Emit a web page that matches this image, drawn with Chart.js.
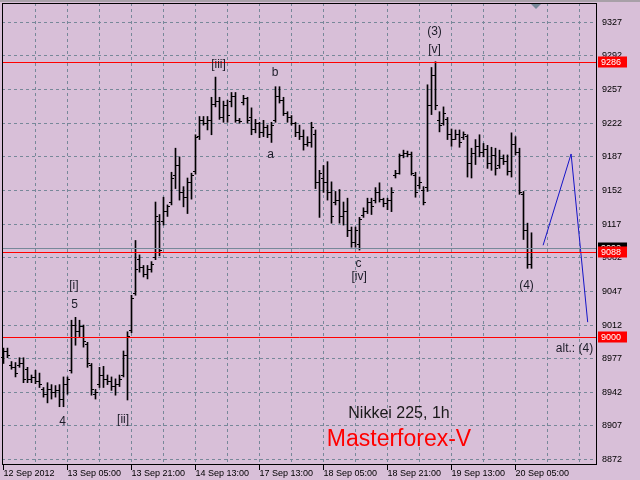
<!DOCTYPE html>
<html>
<head>
<meta charset="utf-8">
<script src="https://cdn.jsdelivr.net/npm/chart.js@4.4.1/dist/chart.umd.min.js"></script>
<style>
  body { margin: 0; background: #d8bfd8; }
  canvas { display: block; }
</style>
</head>
<body>
<canvas id="nikkeiChart" width="640" height="480"></canvas>
<script>
// Nikkei 225, 1h bars (index = bar number from 12 Sep 2012)
const opens = [
  8978, 8984, 8970, 8968, 8970, 8972, 8966, 8955, 8957, 8953,
  8945, 8940, 8945, 8942, 8944, 8935, 8950, 8965, 9012, 9005,
  9010, 8992, 8970, 8940, 8950, 8960, 8955, 8953, 8948, 8950,
  8960, 8980, 9006, 9045, 9080, 9072, 9065, 9070, 9082, 9120,
  9120, 9130, 9140, 9168, 9178, 9150, 9145, 9160, 9172, 9208,
  9225, 9222, 9225, 9242, 9245, 9228, 9240, 9245, 9250, 9225,
  9244, 9248, 9228, 9215, 9222, 9212, 9218, 9210, 9225, 9250,
  9246, 9232, 9228, 9222, 9212, 9208, 9200, 9202, 9210, 9160,
  9165, 9160, 9150, 9140, 9142, 9125, 9130, 9110, 9098, 9096,
  9126, 9130, 9140, 9142, 9150, 9143, 9138, 9142, 9168, 9170,
  9188, 9190, 9189, 9168, 9157, 9152, 9155, 9240, 9272, 9225,
  9222, 9226, 9210, 9205, 9210, 9207, 9208, 9180, 9190, 9198,
  9192, 9195, 9180, 9188, 9178, 9185, 9182, 9172, 9200, 9192,
  9148, 9110, 9075
];
const highs = [
  8988, 8988, 8974, 8973, 8978, 8978, 8968, 8960, 8965, 8962,
  8947, 8952, 8950, 8949, 8950, 8958, 8958, 9017, 9020, 9017,
  9012, 8994, 8972, 8945, 8968, 8969, 8960, 8958, 8956, 8960,
  8985, 9005, 9043, 9100, 9085, 9074, 9074, 9078, 9140, 9127,
  9145, 9137, 9171, 9196, 9187, 9156, 9165, 9170, 9210, 9229,
  9229, 9229, 9249, 9270, 9249, 9245, 9246, 9254, 9254, 9227,
  9251, 9249, 9238, 9226, 9223, 9225, 9220, 9223, 9260, 9260,
  9249, 9234, 9230, 9223, 9220, 9215, 9208, 9223, 9215, 9173,
  9178, 9182, 9161, 9151, 9153, 9140, 9144, 9114, 9114, 9124,
  9134, 9144, 9144, 9155, 9160, 9144, 9144, 9155, 9173, 9190,
  9194, 9193, 9192, 9171, 9166, 9156, 9262, 9280, 9286, 9234,
  9239, 9228, 9216, 9215, 9215, 9213, 9210, 9196, 9205, 9210,
  9201, 9199, 9197, 9196, 9194, 9189, 9189, 9212, 9208, 9196,
  9151, 9118, 9108
];
const lows = [
  8972, 8978, 8966, 8958, 8968, 8952, 8952, 8952, 8951, 8947,
  8937, 8931, 8935, 8937, 8927, 8927, 8940, 8962, 8991, 9000,
  8989, 8968, 8939, 8935, 8947, 8947, 8950, 8944, 8939, 8948,
  8958, 8934, 9004, 9043, 9067, 9062, 9060, 9067, 9080, 9084,
  9116, 9125, 9137, 9154, 9142, 9135, 9128, 9143, 9169, 9205,
  9220, 9215, 9210, 9239, 9226, 9223, 9223, 9239, 9223, 9222,
  9241, 9222, 9210, 9212, 9207, 9208, 9207, 9202, 9223, 9243,
  9230, 9223, 9220, 9208, 9205, 9194, 9198, 9197, 9154, 9124,
  9150, 9142, 9118, 9137, 9118, 9116, 9104, 9093, 9093, 9090,
  9124, 9128, 9127, 9139, 9140, 9135, 9132, 9130, 9165, 9169,
  9186, 9187, 9168, 9145, 9154, 9137, 9151, 9231, 9236, 9213,
  9220, 9205, 9198, 9205, 9197, 9205, 9166, 9165, 9179, 9187,
  9187, 9175, 9173, 9168, 9175, 9179, 9168, 9166, 9189, 9148,
  9101, 9071, 9071
];
const closes = [
  8984, 8980, 8968, 8962, 8972, 8955, 8955, 8957, 8953, 8950,
  8940, 8945, 8942, 8944, 8935, 8950, 8955, 9012, 9005, 9010,
  8995, 8972, 8945, 8942, 8960, 8955, 8953, 8948, 8950, 8955,
  8980, 9000, 9040, 9070, 9072, 9065, 9070, 9075, 9125, 9090,
  9130, 9135, 9165, 9178, 9150, 9145, 9160, 9168, 9207, 9225,
  9222, 9225, 9242, 9245, 9228, 9240, 9230, 9250, 9225, 9224,
  9248, 9225, 9215, 9222, 9212, 9218, 9210, 9220, 9250, 9246,
  9232, 9228, 9222, 9212, 9208, 9200, 9202, 9218, 9160, 9170,
  9160, 9150, 9125, 9142, 9125, 9130, 9110, 9098, 9110, 9122,
  9130, 9140, 9135, 9150, 9143, 9138, 9142, 9150, 9170, 9188,
  9190, 9189, 9170, 9150, 9160, 9140, 9240, 9272, 9240, 9220,
  9232, 9210, 9205, 9210, 9202, 9210, 9180, 9190, 9198, 9192,
  9195, 9180, 9188, 9175, 9185, 9182, 9172, 9200, 9192, 9150,
  9110, 9075, 9092
];

// time axis labels, every 16 bars
const xLabelIdx = [0, 16, 32, 48, 64, 80, 96, 112, 128];
const xLabels = ['12 Sep 2012', '13 Sep 05:00', '13 Sep 21:00', '14 Sep 13:00',
  '17 Sep 13:00', '18 Sep 05:00', '18 Sep 21:00', '19 Sep 13:00', '20 Sep 05:00'];
const yTicks = [8872, 8907, 8942, 8977, 9012, 9047, 9082, 9117, 9152, 9187, 9222, 9257, 9292, 9327];

// horizontal levels
const redLevels = [9286, 9088, 9000];
const bidLevel = 9092;

// projected wave path (bar index, price)
const projX = [134.9, 141.9, 146.05];
const projY = [9095, 9190, 9015];

// wave marks (text, bar index, price)
const waveText = ['(3)', '[v]', '[iii]', 'b', 'a', 'c', '[iv]', '[i]', '5', '4', '[ii]', '(4)', 'alt.: (4)'];
const waveIdx = [107.75, 107.75, 53.75, 67.9, 66.75, 88.75, 88.9, 17.6, 17.75, 14.75, 29.9, 130.75, 142.75];
const waveVal = [9317, 9298, 9283, 9275, 9189, 9076, 9062, 9053, 9033, 8911, 8913, 9053, 8987];

const FONT = "'Liberation Sans', Arial, sans-serif";

const mt4Plugin = {
  id: 'mt4',
  beforeDraw(chart) {
    const c = chart.ctx;
    c.save();
    c.fillStyle = '#d8bfd8';
    c.fillRect(0, 0, chart.width, chart.height);
    c.fillStyle = '#a8a0a8';
    c.fillRect(0, 0, chart.width, 2);
    c.restore();
  },
  afterDatasetsDraw(chart) {
    const c = chart.ctx;
    const xs = chart.scales.x, ys = chart.scales.y;
    const a = chart.chartArea;
    c.save();
    // open / close ticks
    c.fillStyle = '#000';
    for (let i = 0; i < opens.length; i++) {
      const px = xs.getPixelForValue(i);
      const po = Math.floor(ys.getPixelForValue(opens[i]));
      const pc = Math.floor(ys.getPixelForValue(closes[i]));
      c.fillRect(px - 2.5, po, 2, 1);
      c.fillRect(px + 0.5, pc, 2, 1);
    }
    // level lines
    c.beginPath();
    c.rect(a.left, a.top, a.right - a.left, a.bottom - a.top);
    c.clip();
    c.lineWidth = 1;
    c.strokeStyle = '#778899';
    let py = Math.round(ys.getPixelForValue(bidLevel)) + 0.5;
    c.beginPath(); c.moveTo(a.left, py); c.lineTo(a.right, py); c.stroke();
    c.strokeStyle = '#ff0000';
    redLevels.forEach(v => {
      const y = Math.round(ys.getPixelForValue(v)) + 0.5;
      c.beginPath(); c.moveTo(a.left, y); c.lineTo(a.right, y); c.stroke();
    });
    c.restore();

    c.save();
    // frame
    c.strokeStyle = '#000';
    c.lineWidth = 1;
    c.strokeRect(a.left + 0.5, a.top + 0.5, a.right - a.left - 1, a.bottom - a.top);
    // time axis tick marks
    xLabelIdx.forEach(i => {
      const x = Math.round(xs.getPixelForValue(i)) - 0.5;
      c.beginPath(); c.moveTo(x, a.bottom); c.lineTo(x, a.bottom + 6); c.stroke();
    });
    // chart shift marker
    c.fillStyle = '#778899';
    c.beginPath(); c.moveTo(531, a.top + 1); c.lineTo(541, a.top + 1); c.lineTo(536, a.top + 6); c.closePath(); c.fill();

    // wave labels
    c.fillStyle = '#1c1c28';
    c.font = '12px ' + FONT;
    c.textAlign = 'center';
    c.textBaseline = 'middle';
    waveText.forEach((t, k) => {
      c.fillText(t, xs.getPixelForValue(waveIdx[k]), ys.getPixelForValue(waveVal[k]));
    });
    // caption
    c.fillStyle = '#1a1a1a';
    c.font = '16px ' + FONT;
    c.fillText('Nikkei 225, 1h', 399, 414);
    c.fillStyle = '#ff0000';
    c.font = '23px ' + FONT;
    c.fillText('Masterforex-V', 399, 440);

    // price boxes on the right axis
    c.font = '9px ' + FONT;
    c.textAlign = 'left';
    const box = (v, bg) => {
      const y = ys.getPixelForValue(v);
      c.fillStyle = bg;
      c.fillRect(a.right + 1, Math.round(y) - 5.5, 29, 11);
      c.fillStyle = '#fff';
      c.fillText(String(v), a.right + 4, y + 0.5);
    };
    box(bidLevel, '#000');
    redLevels.forEach(v => box(v, '#ff0000'));
    c.restore();
  }
};

const noPad = s => { s.paddingTop = 0; s.paddingBottom = 0; s.paddingLeft = 0; s.paddingRight = 0; };

const ctx = document.getElementById('nikkeiChart').getContext('2d');
const nikkeiChart = new Chart(ctx, {
  type: 'bar',
  data: {
    datasets: [{
      label: 'High-Low',
      data: highs.map((h, i) => ({ x: i, y: [lows[i], h] })),
      backgroundColor: '#000',
      borderWidth: 0,
      barThickness: 1,
      grouped: false
    }, {
      type: 'line',
      label: 'Projection',
      data: projX.map((x, i) => ({ x: x, y: projY[i] })),
      borderColor: '#1414c8',
      borderWidth: 1,
      pointRadius: 0,
      tension: 0,
      fill: false
    }]
  },
  options: {
    responsive: false,
    animation: false,
    layout: { padding: { left: 2, top: 3, right: 0, bottom: 0 } },
    plugins: { legend: { display: false }, tooltip: { enabled: false } },
    scales: {
      x: {
        type: 'linear',
        offset: false,
        min: -0.375,
        max: 148.375,
        afterBuildTicks: s => {
          const t = [];
          for (let v = 0; v <= 144; v += 8) t.push({ value: v });
          s.ticks = t;
        },
        afterFit: s => { s.height = 16; noPad(s); },
        grid: {
          offset: false,
          drawTicks: false,
          color: c => (c.tick && c.tick.value === 0) ? 'rgba(0,0,0,0)' : '#778899'
        },
        border: { display: false, dash: [3, 3] },
        ticks: {
          autoSkip: false,
          maxRotation: 0,
          align: 'start',
          padding: 4,
          color: '#000',
          font: { family: FONT, size: 9 },
          callback: v => {
            const k = xLabelIdx.indexOf(v);
            return k >= 0 ? xLabels[k] : '';
          }
        }
      },
      y: {
        position: 'right',
        min: 8867.4,
        max: 9347.1,
        afterBuildTicks: s => { s.ticks = yTicks.map(v => ({ value: v })); },
        afterFit: s => { s.width = 43; noPad(s); },
        grid: { drawTicks: false, color: '#778899' },
        border: { display: false, dash: [3, 3] },
        ticks: {
          padding: 5,
          color: '#000',
          font: { family: FONT, size: 9 },
          callback: v => String(v)
        }
      }
    }
  },
  plugins: [mt4Plugin]
});
</script>
</body>
</html>
